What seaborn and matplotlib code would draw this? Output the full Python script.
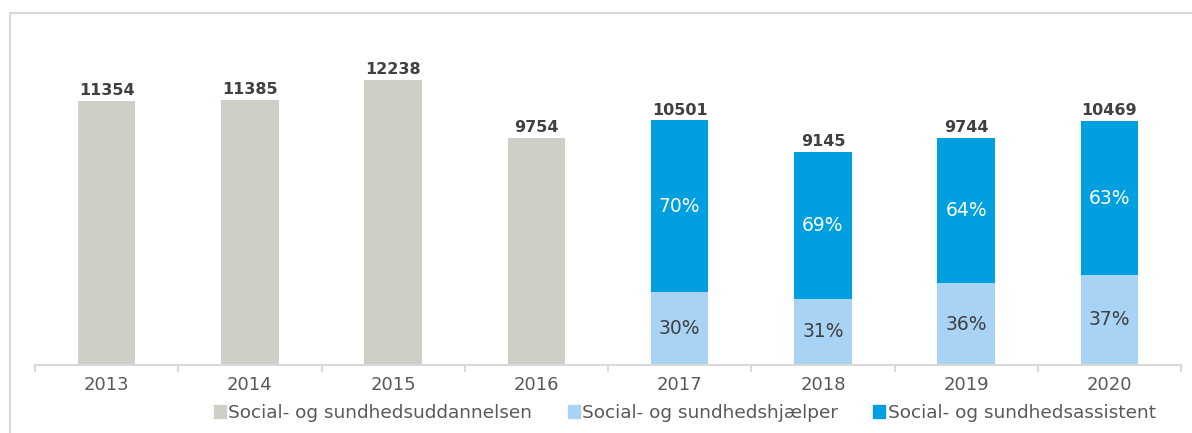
import pandas as pd
import matplotlib.pyplot as plt
import seaborn as sns
from matplotlib.patches import Patch
from matplotlib.lines import Line2D

# data
years = ['2013', '2014', '2015', '2016', '2017', '2018', '2019', '2020']
totals = [11354, 11385, 12238, 9754, 10501, 9145, 9744, 10469]
share_hjaelper = [None, None, None, None, 30, 31, 36, 37]
share_assistent = [None, None, None, None, 70, 69, 64, 63]

label_old = 'Social- og sundhedsuddannelsen'
label_hj = 'Social- og sundhedshjælper'
label_as = 'Social- og sundhedsassistent'

grey = '#D0CFC7'
light_blue = '#A9D3F4'
blue = '#009FDF'
text_dark = '#404040'

# full bars: old education before 2017, assistent (drawn full height) after
df = pd.DataFrame({'year': years, 'total': totals})
df['group'] = [label_old if s is None else label_as for s in share_hjaelper]
df['hj'] = [0 if s is None else t * s / 100 for t, s in zip(totals, share_hjaelper)]

sns.set_style('white')
plt.rcParams['font.family'] = ['DejaVu Sans']

fig = plt.figure(figsize=(11.92, 4.33), dpi=100)
ax = fig.add_axes([35 / 1192, 1 - 365 / 433, 1146 / 1192, 326 / 433])

sns.barplot(data=df, x='year', y='total', hue='group', dodge=False,
            palette={label_old: grey, label_as: blue}, width=0.4,
            saturation=1, legend=False, linewidth=0, ax=ax)
sns.barplot(data=df, x='year', y='hj', color=light_blue, width=0.4,
            saturation=1, linewidth=0, ax=ax)

ax.set_ylim(0, 14000)
ax.set_xlim(-0.5, len(years) - 0.5)

# total labels on top of the bars
for i, t in enumerate(totals):
    ax.annotate(str(t), (i, t), xytext=(0, 2), textcoords='offset points',
                ha='center', va='bottom', fontsize=11.5, fontweight='bold',
                color=text_dark)

# percentages inside the stacked parts
for i, (t, h, a) in enumerate(zip(totals, share_hjaelper, share_assistent)):
    if h is None:
        continue
    low = t * h / 100
    ax.text(i, low / 2, f'{h}%', ha='center', va='center', fontsize=13.5,
            color=text_dark)
    ax.text(i, low + (t - low) / 2, f'{a}%', ha='center', va='center',
            fontsize=13.5, color='white')

# axes styling
sns.despine(ax=ax, left=True, top=True, right=True)
ax.spines['bottom'].set_color('#D9D9D9')
ax.spines['bottom'].set_linewidth(1.5)
ax.set_yticks([])
ax.set_xlabel('')
ax.set_ylabel('')
ax.tick_params(axis='x', which='major', length=0, labelsize=13,
               labelcolor='#595959', pad=8)
ax.set_xticks([i - 0.5 for i in range(len(years) + 1)], minor=True)
ax.tick_params(axis='x', which='minor', bottom=True, length=5, width=1.5,
               color='#D9D9D9')

# legend
handles = [Patch(color=grey, label=label_old),
           Patch(color=light_blue, label=label_hj),
           Patch(color=blue, label=label_as)]
fig.legend(handles=handles, loc='center', ncol=3,
           bbox_to_anchor=(685 / 1192, 1 - 413 / 433), frameon=False,
           fontsize=13.3, handlelength=0.65, handleheight=0.65,
           handletextpad=0.15, columnspacing=1.9, labelcolor='#595959')

# chart frame
frame = '#D9D9D9'
fig.add_artist(Line2D([10 / 1192, 1], [1 - 13 / 433, 1 - 13 / 433],
                      color=frame, lw=1.5, transform=fig.transFigure))
fig.add_artist(Line2D([10 / 1192, 10 / 1192], [0, 1 - 13 / 433],
                      color=frame, lw=1.5, transform=fig.transFigure))

fig.savefig('out.png', dpi=100)
